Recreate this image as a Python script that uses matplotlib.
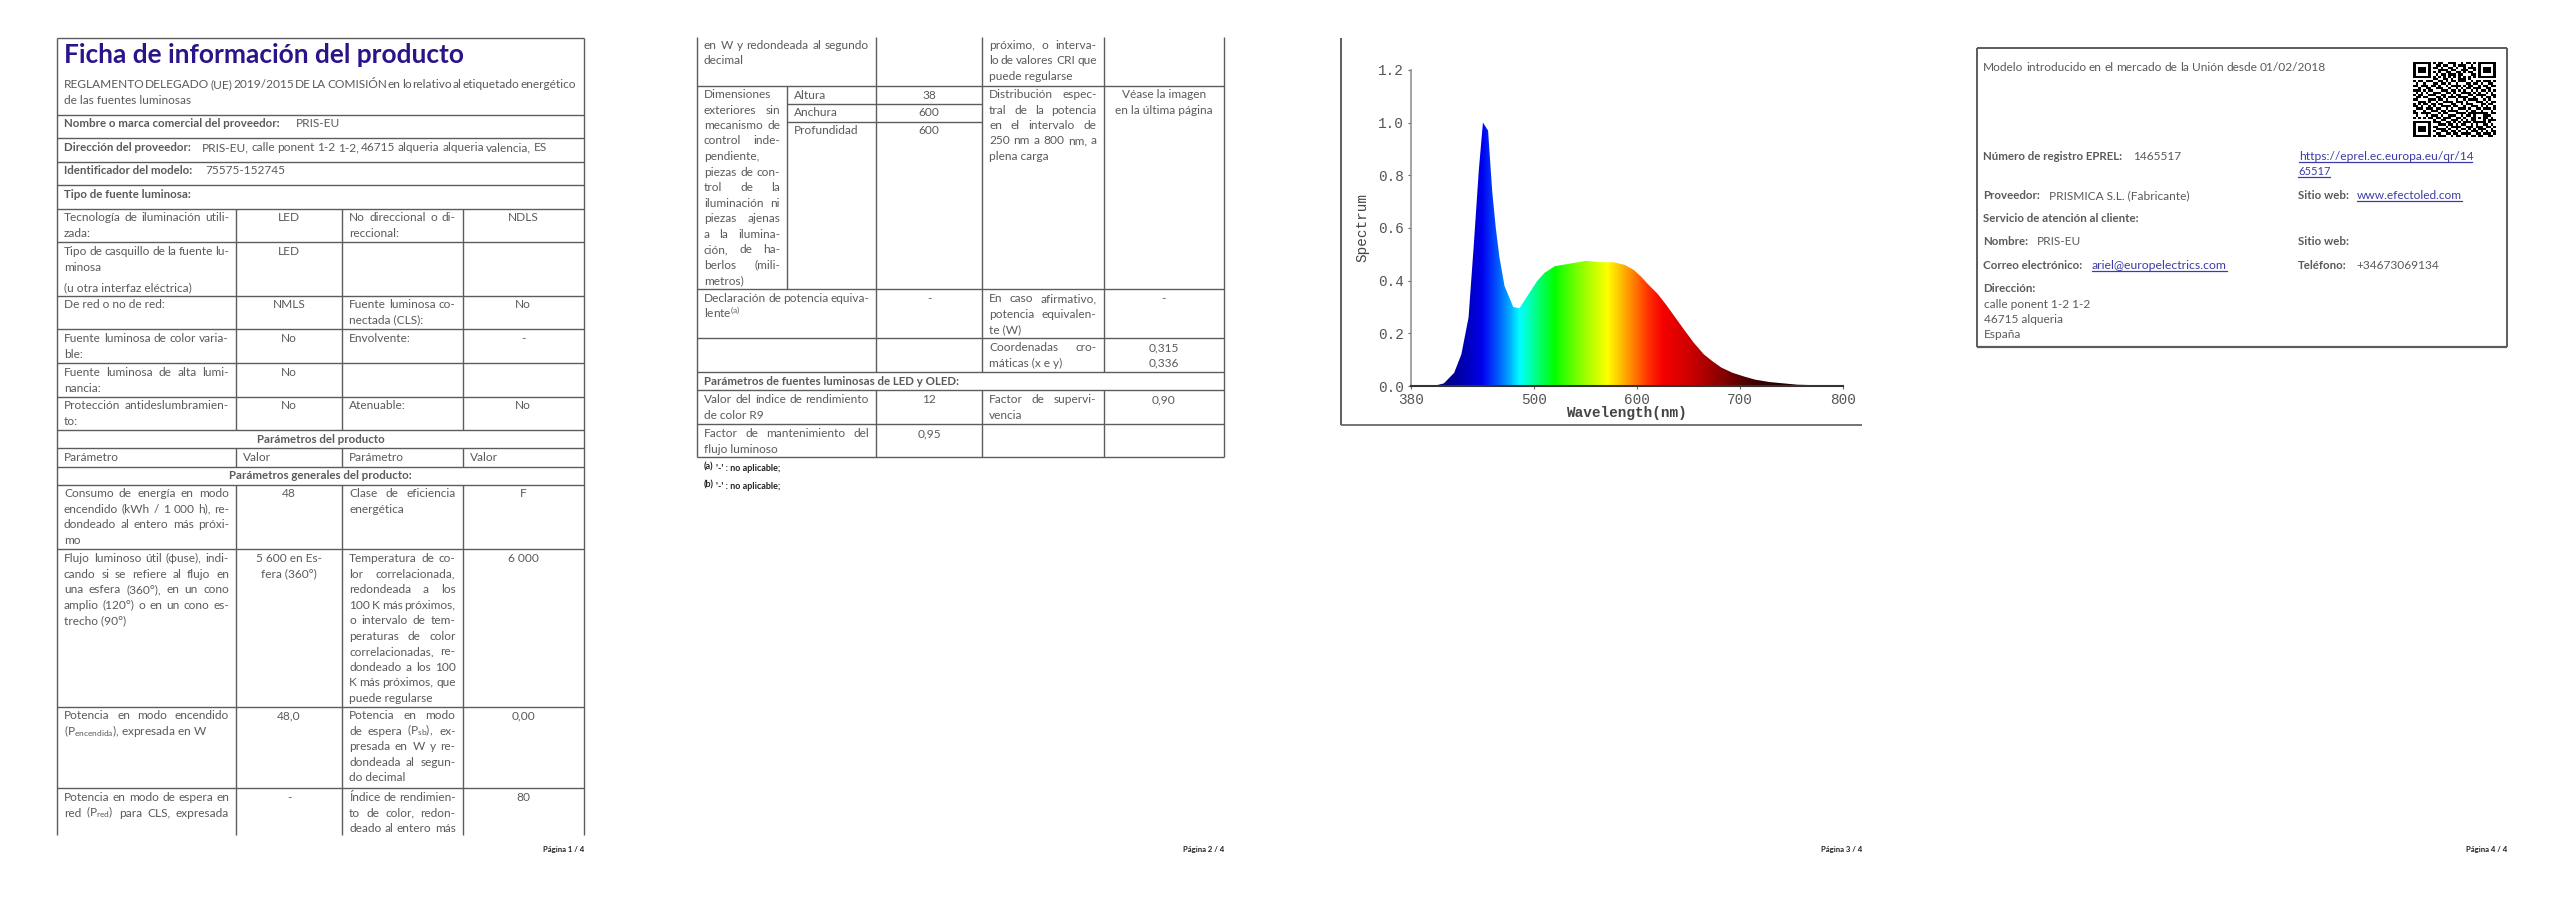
import numpy as np
import matplotlib
matplotlib.use("Agg")
import matplotlib.pyplot as plt
from matplotlib.colors import LinearSegmentedColormap
from matplotlib.patches import Polygon

# ---------- spectrum data ----------
WAVELENGTH = [380, 402, 412, 422, 429, 436, 441, 446, 450, 455, 459, 462.5, 466, 471, 479.5, 485.5, 493, 503, 510,
              520, 535, 550, 565, 577, 588, 597, 604, 611, 620, 628, 644.6, 655, 665, 673, 682, 693, 705, 715, 729, 756, 800]
SPECTRUM = [0, 0.0, 0.01, 0.05, 0.12, 0.26, 0.53, 0.82, 1.0, 0.97, 0.74, 0.60, 0.49, 0.38, 0.30, 0.295, 0.34, 0.40, 0.43,
            0.455, 0.465, 0.475, 0.47, 0.47, 0.46, 0.44, 0.415, 0.385, 0.35, 0.31, 0.22, 0.165, 0.12, 0.095, 0.07, 0.05,
            0.035, 0.024, 0.015, 0.005, 0.0]
X_TICKS = [380, 500, 600, 700, 800]
Y_TICKS = [0.0, 0.2, 0.4, 0.6, 0.8, 1.0, 1.2]
COLOR_NM = [380, 415, 436, 449, 462.6, 472, 485.5, 500, 519, 543, 571, 590, 611, 625, 652, 682, 712, 756, 800]
COLOR_HEX = ['#000070', '#00008c', '#0000c0', '#0000f0', '#0050ff', '#0090ff', '#00ffff', '#00ff90', '#00ff00',
             '#80ff00', '#ffff00', '#ffa000', '#ff3000', '#f50000', '#cc0000', '#880000', '#400000', '#200000', '#000000']

# ---------- document text ----------
TITLE = "Ficha de información del producto"
REG_1 = "REGLAMENTO DELEGADO (UE) 2019/2015 DE LA COMISIÓN en lo relativo al etiquetado energético"
REG_2 = "de las fuentes luminosas"

P1_CELLS = [
    (0, 217, ["Tecnología de iluminación utili-", "zada:"], 'j'), (1, 217, ["LED"], 'c'),
    (2, 217, ["No direccional o di-", "reccional:"], 'j'), (3, 217, ["NDLS"], 'c'),
    (0, 251, ["Tipo de casquillo de la fuente lu-", "minosa"], 'j'), (0, 287, ["(u otra interfaz eléctrica)"], 'j'),
    (1, 251, ["LED"], 'c'),
    (0, 304, ["De red o no de red:"], 'j'), (1, 304, ["NMLS"], 'c'),
    (2, 304, ["Fuente luminosa co-", "nectada (CLS):"], 'j'), (3, 304, ["No"], 'c'),
    (0, 338, ["Fuente luminosa de color varia-", "ble:"], 'j'), (1, 338, ["No"], 'c'),
    (2, 338, ["Envolvente:"], 'j'), (3, 338, ["-"], 'c'),
    (0, 372, ["Fuente luminosa de alta lumi-", "nancia:"], 'j'), (1, 372, ["No"], 'c'),
    (0, 405, ["Protección antideslumbramien-", "to:"], 'j'), (1, 405, ["No"], 'c'),
    (2, 405, ["Atenuable:"], 'j'), (3, 405, ["No"], 'c'),
    (0, 457, ["Parámetro"], 'j'), (1, 457, ["Valor"], 'j'), (2, 457, ["Parámetro"], 'j'), (3, 457, ["Valor"], 'j'),
    (0, 493, ["Consumo de energía en modo", "encendido (kWh / 1 000 h), re-", "dondeado al entero más próxi-", "mo"], 'j'),
    (1, 493, ["48"], 'c'), (2, 493, ["Clase de eficiencia", "energética"], 'j'), (3, 493, ["F"], 'c'),
    (0, 558, ["Flujo luminoso útil (ϕuse), indi-", "cando si se refiere al flujo en", "una esfera (360°), en un cono",
              "amplio (120°) o en un cono es-", "trecho (90°)"], 'j'),
    (1, 558, ["5 600 en Es-", "fera (360°)"], 'c'),
    (2, 558, ["Temperatura de co-", "lor correlacionada,", "redondeada a los", "100 K más próximos,", "o intervalo de tem-",
              "peraturas de color", "correlacionadas, re-", "dondeado a los 100", "K más próximos, que", "puede regularse"], 'j'),
    (3, 558, ["6 000"], 'c'),
    (0, 715, ["Potencia en modo encendido", r"(P$_{\mathrm{encendida}}$), expresada en W"], 'j'), (1, 715, ["48,0"], 'c'),
    (2, 715, ["Potencia en modo", r"de espera (P$_{\mathrm{sb}}$), ex-", "presada en W y re-", "dondeada al segun-", "do decimal"], 'j'),
    (3, 715, ["0,00"], 'c'),
    (0, 797, ["Potencia en modo de espera en", r"red (P$_{\mathrm{red}}$) para CLS, expresada"], 'J'), (1, 797, ["-"], 'c'),
    (2, 797, ["Índice de rendimien-", "to de color, redon-", "deado al entero más"], 'J'), (3, 797, ["80"], 'c'),
]
P2_CELLS = [
    (0, 45, ["en W y redondeada al segundo", "decimal"], 'j'),
    (2, 45, ["próximo, o interva-", "lo de valores CRI que", "puede regularse"], 'j'),
    (2, 94, ["Distribución espec-", "tral de la potencia", "en el intervalo de", "250 nm a 800 nm, a", "plena carga"], 'j'),
    (3, 94, ["Véase la imagen", "en la última página"], 'c'),
    (0, 298, ["Declaración de potencia equiva-", r"lente$^{\mathrm{(a)}}$"], 'j'), (1, 298, ["-"], 'c'),
    (2, 298, ["En caso afirmativo,", "potencia equivalen-", "te (W)"], 'j'), (3, 298, ["-"], 'c'),
    (2, 347, ["Coordenadas cro-", "máticas (x e y)"], 'j'), (3, 347, ["0,315", "0,336"], 'c'),
    (0, 399, ["Valor del índice de rendimiento", "de color R9"], 'j'), (1, 399, ["12"], 'c'),
    (2, 399, ["Factor de supervi-", "vencia"], 'j'), (3, 399, ["0,90"], 'c'),
    (0, 433, ["Factor de mantenimiento del", "flujo luminoso"], 'j'), (1, 433, ["0,95"], 'c'),
]
DIM_LABEL = ["Dimensiones", "exteriores sin", "mecanismo de", "control inde-", "pendiente,", "piezas de con-", "trol de la",
             "iluminación ni", "piezas ajenas", "a la ilumina-", "ción, de ha-", "berlos (mili-", "metros)"]
DIM_NAMES = ["Altura", "Anchura", "Profundidad"]
DIM_VALUES = ["38", "600", "600"]
NO_JUSTIFY = {"Dimensiones", "pendiente,"}

QR_ROWS = [
    "111111101011001110010110101111111", "100000100110110010111001001000001",
    "101110101101001101001011101011101", "101110100011110110011100101011101",
    "101110101010011001101011001011101", "100000100101101110110001101000001",
    "111111101010101010101010101111111", "000000001100110100111010000000000",
    "101101110011010110111001011011101", "010010001101101001000110110100110",
    "110111011010010111101011001011011", "001001100111001001010110111001100",
    "111010110001110110101001010110101", "010101001110011010011110101001010",
    "101100111001100101100011011110011", "011011000110101110111100100101101",
    "110000111011010001001011110010100", "001110100100111101110100011101011",
    "101011011011000110010111000110110", "110100101001111011001001110101001",
    "011101110110010100111010011011101", "100010011101101111000101100100010",
    "110111100010110001111011111111011", "010001011101001110010110100011100",
    "101010110110111001101001101011010", "000000001001100111010101100010111",
    "111111101110011010101110111110100", "100000100011101101011001010011010",
    "101110101100010111100111011101101", "101110100111101001011010101110010",
    "101110101001110110100101110101011", "100000100110011011011110011011101",
    "111111101011100101100101101100110",
]

# ---------- layout (pixels of the 2560x905 page) ----------
PAD = 7
FS = 8.6
BFS = 8.3
INK = '#5a5a5a'
LINE = '#5c5c5c'
LINK = '#3c3ca8'
STEP = 15.5
P1 = [57, 236, 342, 462.5, 584]
P2 = [697, 876, 982, 1103.5, 1224]

plt.rcParams['font.family'] = ['Lato', 'DejaVu Sans']
plt.rcParams['mathtext.fontset'] = 'custom'
plt.rcParams['mathtext.rm'] = 'Lato'
plt.rcParams['mathtext.it'] = 'Lato:italic'
plt.rcParams['mathtext.bf'] = 'Lato:bold'

fig = plt.figure(figsize=(25.6, 9.05), dpi=100, facecolor='white')
ax = fig.add_axes([0, 0, 1, 1])
ax.axis('off')
ax.set_xlim(0, 2560)
ax.set_ylim(905, 0)
renderer = fig.canvas.get_renderer()


def width(s, fontsize=FS, fontweight='normal'):
    t = ax.text(0, 0, s, fontsize=fontsize, fontweight=fontweight)
    w = t.get_window_extent(renderer).width
    t.remove()
    return w


def put(x, y, s, ha='left', color=INK, fontsize=None, fontweight='normal'):
    if fontsize is None:
        fontsize = BFS if fontweight == 'bold' else FS
    return ax.text(x, y + 4, s, ha=ha, va='baseline', color=color, fontsize=fontsize, fontweight=fontweight)


def fit(x0, x1, y, s, color=INK, fontsize=FS, fontweight='normal'):
    """Place the words of a line so that it runs from x0 to x1."""
    words = s.split(' ')
    if len(words) == 1:
        put(x0, y, s, color=color, fontsize=fontsize, fontweight=fontweight)
        return
    ws = [width(w, fontsize=fontsize, fontweight=fontweight) for w in words]
    gap = (x1 - x0 - sum(ws)) / (len(words) - 1)
    x = x0
    for w, wd in zip(words, ws):
        put(x, y, w, color=color, fontsize=fontsize, fontweight=fontweight)
        x += wd + gap


def link(x0, x1, y, s):
    size = FS * (x1 - x0) / width(s)
    put(x0, y, s, color=LINK, fontsize=size)
    ax.plot([x0, x1], [y + 6, y + 6], color=LINK, lw=0.9)


def hline(y, x0, x1, lw=1.0):
    ax.plot([x0, x1], [y, y], color=LINE, lw=lw, solid_capstyle='butt')


def vline(x, y0, y1, lw=1.0):
    ax.plot([x, x], [y0, y1], color=LINE, lw=lw, solid_capstyle='butt')


def draw_cells(cols, cells):
    for col, y0, lines, mode in cells:
        x0, x1 = cols[col] + PAD, cols[col + 1] - PAD
        for i, line in enumerate(lines):
            y = y0 + i * STEP
            if mode == 'c':
                put((cols[col] + cols[col + 1]) / 2, y, line, ha='center')
            elif (mode == 'J' or i < len(lines) - 1) and line not in NO_JUSTIFY:
                fit(x0, x1, y, line)
            else:
                put(x0, y, line)


# ---------- page 1 ----------
for y in [38, 115, 138, 162, 185, 209, 242, 296, 329, 363, 397, 430, 448, 467, 485, 549, 707, 788]:
    hline(y, P1[0], P1[-1])
for x in (P1[0], P1[-1]):
    vline(x, 38, 835)
for x in P1[1:-1]:
    for y0, y1 in [(209, 430), (448, 467), (485, 835)]:
        vline(x, y0, y1)
put(64, 59, TITLE, color='#2c1488', fontsize=18.9, fontweight='bold')
fit(63.5, 576, 84, REG_1)
put(63.5, 100, REG_2)
put(63.5, 123, "Nombre o marca comercial del proveedor:", fontweight='bold')
put(296, 123, "PRIS-EU")
put(63.5, 147, "Dirección del proveedor:", fontweight='bold')
fit(202, 547, 147, "PRIS-EU, calle ponent 1-2 1-2, 46715 alqueria alqueria valencia, ES")
put(63.5, 170, "Identificador del modelo:", fontweight='bold')
put(205, 170, "75575-152745")
put(63.5, 194, "Tipo de fuente luminosa:", fontweight='bold')
put((P1[0] + P1[-1]) / 2, 439, "Parámetros del producto", ha='center', fontweight='bold')
put((P1[0] + P1[-1]) / 2, 475, "Parámetros generales del producto:", ha='center', fontweight='bold')
draw_cells(P1, P1_CELLS)
put(P1[-1], 848, "Página 1 / 4", ha='right', color='#222222', fontsize=5.6, fontweight='bold')

# ---------- page 2 ----------
for y in [86, 289, 338, 372, 390, 424, 457]:
    hline(y, P2[0], P2[-1])
hline(104, 787, P2[2])
hline(122, 787, P2[2])
vline(787, 86, 289)
for x in (P2[0], P2[-1]):
    vline(x, 37, 457)
for x in P2[1:-1]:
    for y0, y1 in [(37, 372), (390, 457)]:
        vline(x, y0, y1)
draw_cells(P2, P2_CELLS)
draw_cells([P2[0], 787], [(0, 94, DIM_LABEL, 'j')])
for y, name, value in zip([95, 112, 130], DIM_NAMES, DIM_VALUES):
    put(794, y, name)
    put((P2[1] + P2[2]) / 2, y, value, ha='center')
put(P2[0] + PAD, 381, "Parámetros de fuentes luminosas de LED y OLED:", fontweight='bold')
put(704, 465, "(a)", color='#222222', fontsize=6.5, fontweight='bold')
put(716, 467, "'-' : no aplicable;", color='#222222', fontsize=6.5, fontweight='bold')
put(704, 483, "(b)", color='#222222', fontsize=6.5, fontweight='bold')
put(716, 485, "'-' : no aplicable;", color='#222222', fontsize=6.5, fontweight='bold')
put(P2[-1], 848, "Página 2 / 4", ha='right', color='#222222', fontsize=5.6, fontweight='bold')

# ---------- page 3 ----------
vline(1341, 38, 425, lw=1.4)
hline(425, 1341, 1862, lw=1.2)
put(1862, 848, "Página 3 / 4", ha='right', color='#222222', fontsize=5.6, fontweight='bold')

# ---------- page 4 ----------
hline(48, 1977, 2507, lw=1.4)
hline(347, 1977, 2507, lw=1.6)
vline(1977, 48, 347, lw=1.4)
vline(2507, 48, 347, lw=1.4)
fit(1983, 2326, 67, "Modelo introducido en el mercado de la Unión desde 01/02/2018")
qr = np.array([[int(c) for c in row.ljust(33, '0')[:33]] for row in QR_ROWS])
ax.imshow(1 - qr, cmap='gray', vmin=0, vmax=1, extent=[2413, 2496, 137, 62], aspect='auto',
          interpolation='nearest', zorder=2)
ax.set_xlim(0, 2560)
ax.set_ylim(905, 0)
put(1983, 156, "Número de registro EPREL:", fontweight='bold')
put(2133, 156, "1465517")
link(2299, 2472, 156, "https://eprel.ec.europa.eu/qr/14")
link(2298, 2330, 171, "65517")
put(1983, 195, "Proveedor:", fontweight='bold')
put(2049, 195, "PRISMICA S.L. (Fabricante)")
put(2298, 195, "Sitio web:", fontweight='bold')
link(2357, 2462, 195, "www.efectoled.com")
put(1983, 218, "Servicio de atención al cliente:", fontweight='bold')
put(1983, 241, "Nombre:", fontweight='bold')
put(2037, 241, "PRIS-EU")
put(2298, 241, "Sitio web:", fontweight='bold')
put(1983, 265, "Correo electrónico:", fontweight='bold')
link(2092, 2227, 265, "ariel@europelectrics.com")
put(2298, 265, "Teléfono:", fontweight='bold')
put(2356, 265, "+34673069134")
put(1983, 288, "Dirección:", fontweight='bold')
for y, s in zip([304, 319, 334], ["calle ponent 1-2 1-2", "46715 alqueria", "España"]):
    put(1984, y, s)
put(2507, 848, "Página 4 / 4", ha='right', color='#222222', fontsize=5.6, fontweight='bold')

# ---------- spectrum chart ----------
L, R, T, B = 1411, 1842.6, 70, 386
sp = fig.add_axes([L / 2560, 1 - B / 905, (R - L) / 2560, (B - T) / 905])
sp.patch.set_alpha(0)
stops = [((nm - 380) / 420, c) for nm, c in zip(COLOR_NM, COLOR_HEX)]
cmap = LinearSegmentedColormap.from_list('spectrum', stops, N=512)
grad = np.linspace(380, 800, 840).reshape(1, -1)
im = sp.imshow(grad, cmap=cmap, vmin=380, vmax=800, extent=[380, 800, 0, 1.2], aspect='auto', interpolation='bilinear')
poly = Polygon(np.column_stack([WAVELENGTH, SPECTRUM]), closed=True, transform=sp.transData, fc='none', ec='none')
sp.add_patch(poly)
im.set_clip_path(poly)
sp.set_xlim(380, 800)
sp.set_ylim(0, 1.2)
for s in ('top', 'right'):
    sp.spines[s].set_visible(False)
sp.spines['left'].set_color('#8a8a8a')
sp.spines['left'].set_linewidth(1.1)
sp.spines['bottom'].set_color('#333333')
sp.spines['bottom'].set_linewidth(1.5)
sp.set_xticks(X_TICKS)
sp.set_xticklabels([str(v) for v in X_TICKS], family='Liberation Mono', fontsize=10.4, color='#555555')
sp.set_yticks(Y_TICKS)
sp.set_yticklabels([f"{v:.1f}" for v in Y_TICKS], family='Liberation Mono', fontsize=10.4, color='#555555')
sp.tick_params(axis='both', length=2.5, width=0.8, color='#666666', pad=2.5)
sp.set_xlabel("Wavelength(nm)", family='Liberation Mono', fontsize=10.4, color='#444444', fontweight='bold', va='center')
sp.set_ylabel("Spectrum", family='Liberation Mono', fontsize=10.4, color='#444444', va='center')
sp.xaxis.set_label_coords(0.498, -(413 - B) / (B - T))
sp.yaxis.set_label_coords((1362 - L) / (R - L), 0.5 - (228 - (T + B) / 2) / (B - T))

fig.savefig('out.png', dpi=100, facecolor='white')
